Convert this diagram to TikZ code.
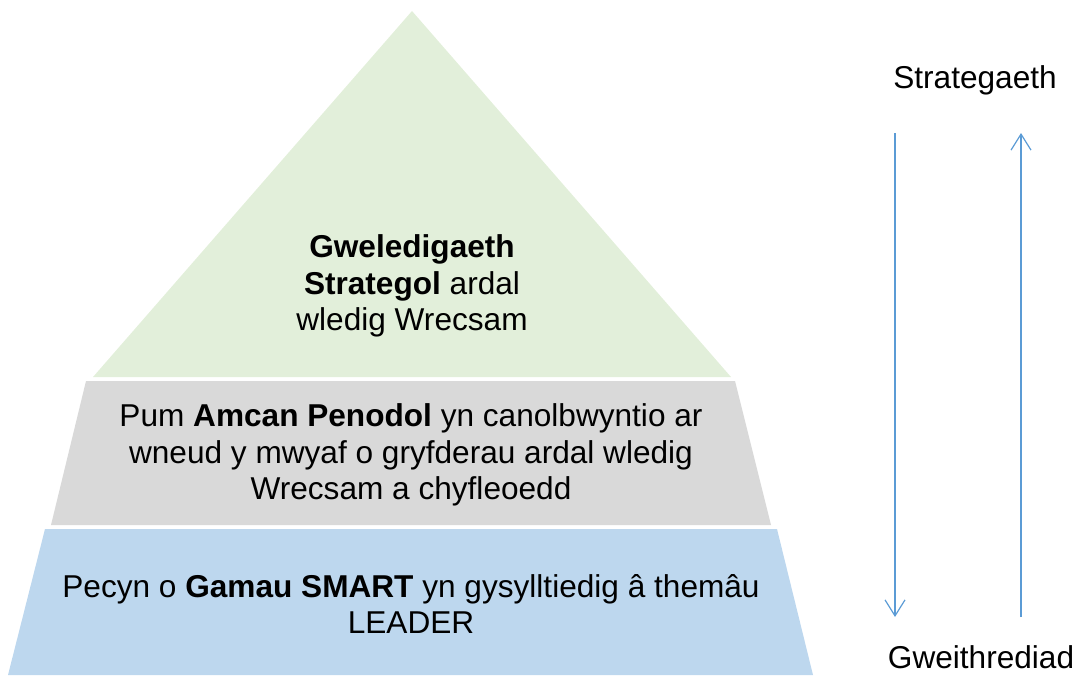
\documentclass[tikz,border=0pt]{standalone}
\usepackage{fontspec}
\setmainfont{Liberation Sans}
\usetikzlibrary{arrows.meta}
\definecolor{lgreen}{HTML}{E2EFDA}
\definecolor{lgray}{HTML}{D9D9D9}
\definecolor{lblue}{HTML}{BDD7EE}
\definecolor{arrblue}{HTML}{5B9BD5}
\begin{document}
\begin{tikzpicture}[x=1pt,y=-1pt,
  layertext/.style={align=center,inner sep=0pt,font=\fontsize{31.6}{36.6}\selectfont},
  sidetext/.style={inner sep=0pt,font=\fontsize{31.6}{36.6}\selectfont},
  flowarrow/.style={draw=arrblue,line width=1.2pt,-{Straight Barb[length=16pt,width=20pt,line width=1.2pt]}}]
\useasboundingbox (0,0) rectangle (1078,675);
% layers
\fill[lgreen] (412,11) -- (731,377) -- (93,377) -- cycle;
\fill[lgray] (86,381) -- (735,381) -- (771,525) -- (51,525) -- cycle;
\fill[lblue] (45,529) -- (777,529) -- (813,675) -- (8,675) -- cycle;
% texts
\node[layertext] (top) at (412,286) {\textbf{Gweledigaeth}\\\textbf{Strategol} ardal\\wledig Wrecsam};
\node[layertext] (mid) at (411,455) {Pum \textbf{Amcan Penodol} yn canolbwyntio ar\\wneud y mwyaf o gryfderau ardal wledig\\Wrecsam a chyfleoedd};
\node[layertext] (bot) at (411,604) {Pecyn o \textbf{Gamau SMART} yn gysylltiedig â themâu\\LEADER};
\node[sidetext] (strat) at (975,80) {Strategaeth};
\node[sidetext] (gweith) at (981,657) {Gweithrediad};
% arrows
\coordinate (d1) at (895,133);
\coordinate (d2) at (895,617);
\coordinate (u1) at (1021,617);
\coordinate (u2) at (1021,133);
\draw[flowarrow] (d1) -- (d2);
\draw[flowarrow] (u1) -- (u2);
\end{tikzpicture}
\end{document}
